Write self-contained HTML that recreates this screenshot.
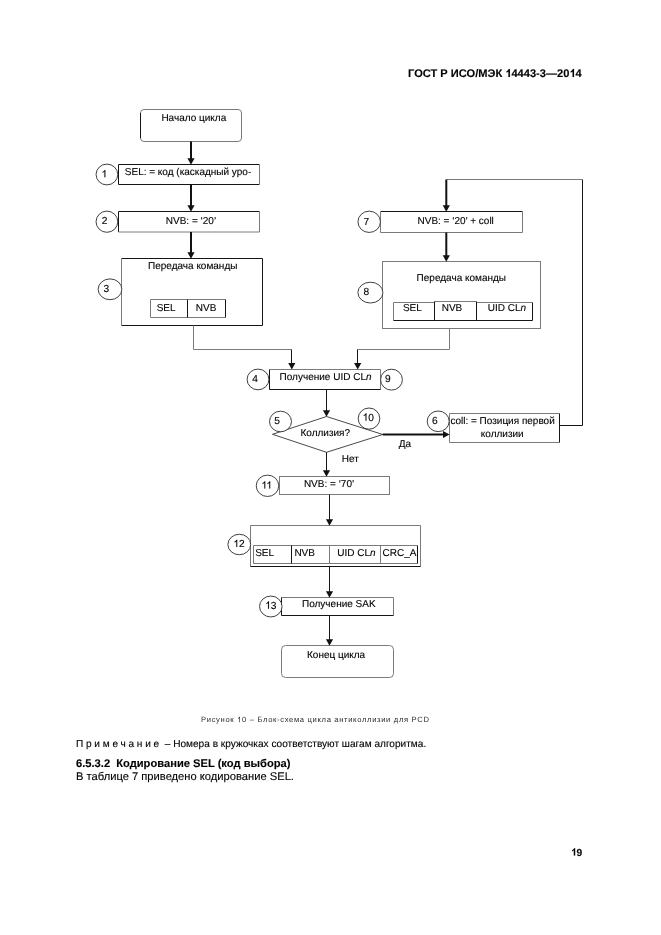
<!DOCTYPE html>
<html><head><meta charset="utf-8">
<style>
html,body{margin:0;padding:0;background:#fff;}
body{width:661px;height:935px;position:relative;overflow:hidden;font-family:"Liberation Sans",sans-serif;color:#111;}
svg{position:absolute;left:0;top:0;will-change:transform;text-rendering:geometricPrecision;}
svg text{font-family:"Liberation Sans",sans-serif;fill:#000;stroke:#000;stroke-width:0.12px;}
.t{font-size:10px;}
.n{font-size:10.2px;}
.d{stroke:#151515;}
.g{stroke:#7a7a7a;}
.one{fill-opacity:0;stroke-opacity:0;}
</style></head><body>
<svg width="661" height="935" viewBox="0 0 661 935">
<!-- header -->
<text x="408" y="77" font-size="11.1" font-weight="bold">ГОСТ Р ИСО/МЭК <tspan class="one">1</tspan>4443-3—20<tspan class="one">1</tspan>4</text>

<g fill="none" stroke-width="1">
 <!-- start -->
 <rect class="g" x="140.5" y="109.5" width="101" height="32" rx="3.5"/>
 <path class="d" d="M140.5,113 V138"/>
 <!-- box1 -->
 <path class="d" d="M118.5,184.5 V164.5 H259.5"/>
 <path class="d" d="M118.5,184.5 H259.5"/>
 <path class="g" d="M259.5,164.5 V184.5"/>
 <!-- box2 -->
 <path class="d" d="M118.5,232 V211.5 H259.5"/>
 <path class="g" d="M259.5,211.5 V232 H118.5"/>
 <!-- box3 -->
 <path class="d" d="M121.5,258.5 H262.5 V325.5 H121.5"/>
 <path class="g" d="M121.5,258.5 V325.5"/>
 <path class="g" d="M225.5,317.5 H150.5 V299.5 H225.5"/>
 <path class="d" d="M225.5,299.5 V317.5 M187.5,299.5 V317.5"/>
 <!-- connector 3->4 -->
 <path class="g" d="M193.5,325.5 V349.5 H291.5"/>
 <path class="d" d="M291.5,349.5 V364"/>
 <!-- box7 -->
 <path class="d" d="M380.5,211.5 H522.5"/>
 <path class="g" d="M380.5,211.5 V232.5 H522.5 V211.5"/>
 <!-- box8 -->
 <rect class="g" x="382.5" y="261.5" width="158" height="67"/>
 <path class="g" d="M393.5,320.5 V302.5 H434.5 M476.5,302.5 H532.5 M434.5,301.5 H476.5"/>
 <path class="d" d="M393.5,320.5 H532.5 V302.5 M434.5,301.5 V320.5 M476.5,301.5 V320.5"/>
 <!-- connector 8->4 -->
 <path class="g" d="M449.5,328.5 V349.5 H357.5"/>
 <path class="d" d="M357.5,349.5 V364"/>
 <!-- loop -->
 <path class="d" d="M559.5,425.5 H582.5 V179.5"/>
 <path class="g" d="M582.5,179.5 H446.5"/>
 <!-- box4 -->
 <path class="g" d="M269.5,369.5 H380.5 V389.5"/>
 <path class="d" d="M269.5,369.5 V389.5 H380.5"/>
 <path class="d" d="M326.5,389.5 V411"/>
 <!-- diamond -->
 <polygon points="326.5,416.5 382.8,434.5 326.5,452.3 272.5,434.3" stroke="#1a1a1a" stroke-width="0.8"/>
 <!-- box6 -->
 <path class="g" d="M559.5,442.5 H449.5 V413.5 H559.5"/>
 <path class="d" d="M559.5,413.5 V442.5"/>
 <path class="d" d="M326.5,452.3 V471"/>
 <!-- box11 -->
 <rect class="g" x="279.5" y="476.5" width="110" height="18"/>
 <path class="d" d="M329.5,494.5 V520"/>
 <!-- box12 -->
 <path class="g" d="M250.5,566.5 V525.5 H420.5 V566.5"/>
 <path class="d" d="M250.5,566.5 H420.5"/>
 <path class="g" d="M417.5,563.5 H253.5 V545.5 H417.5 M329.5,545.5 V563.5 M380.5,545.5 V563.5"/>
 <path class="d" d="M417.5,545.5 V563.5 M291.5,545.5 V563.5"/>
 <path class="d" d="M329.5,566.5 V592"/>
 <!-- box13 -->
 <path class="g" d="M281.5,597.5 H393.5 V615.5"/>
 <path class="d" d="M281.5,597.5 V615.5 H393.5"/>
 <path class="d" d="M329.5,615.5 V640"/>
 <!-- end -->
 <rect class="g" x="281.5" y="645.5" width="112" height="32" rx="4"/>
</g>
<!-- thick lines -->
<g fill="none" stroke="#111" stroke-width="2">
 <line x1="191" y1="141.5" x2="191" y2="159"/>
 <line x1="191" y1="184.5" x2="191" y2="206"/>
 <line x1="191" y1="232" x2="191" y2="253"/>
 <line x1="446.3" y1="179.5" x2="446.3" y2="206"/>
 <line x1="446.3" y1="232.5" x2="446.3" y2="256"/>
 <line x1="382.8" y1="434.5" x2="444" y2="434.5"/>
</g>
<!-- arrowheads -->
<g fill="#111" stroke="none">
 <polygon points="187.40,158.20 194.60,158.20 191.00,164.80"/>
 <polygon points="187.40,205.20 194.60,205.20 191.00,211.80"/>
 <polygon points="187.40,252.20 194.60,252.20 191.00,258.80"/>
 <polygon points="288.20,362.90 295.40,362.90 291.80,369.50"/>
 <polygon points="354.10,362.90 361.30,362.90 357.70,369.50"/>
 <polygon points="442.70,205.20 449.90,205.20 446.30,211.80"/>
 <polygon points="442.70,255.20 449.90,255.20 446.30,261.80"/>
 <polygon points="322.90,410.20 330.10,410.20 326.50,416.80"/>
 <polygon points="322.90,470.20 330.10,470.20 326.50,476.80"/>
 <polygon points="325.90,519.20 333.10,519.20 329.50,525.80"/>
 <polygon points="325.90,591.20 333.10,591.20 329.50,597.80"/>
 <polygon points="325.90,639.20 333.10,639.20 329.50,645.80"/>
 <polygon points="443,430.9 443,438.1 449.6,434.5"/>
</g>
<!-- circles -->
<g fill="#fff" stroke="#2a2a2a" stroke-width="0.9">
 <ellipse cx="106.9" cy="174.5" rx="10.85" ry="10.4"/>
 <ellipse cx="106.9" cy="221.7" rx="10.85" ry="10.6"/>
 <ellipse cx="110" cy="289.3" rx="11.85" ry="10.4"/>
 <ellipse cx="258" cy="379.45" rx="10.9" ry="10.35"/>
 <ellipse cx="280.5" cy="421.5" rx="11" ry="10.3"/>
 <ellipse cx="438.2" cy="421.3" rx="11" ry="10.3"/>
 <ellipse cx="369.2" cy="221.8" rx="11.25" ry="10.65"/>
 <ellipse cx="370.4" cy="292.6" rx="12.5" ry="10.4"/>
 <ellipse cx="391.5" cy="379.65" rx="10.9" ry="10.45"/>
 <ellipse cx="369" cy="418.6" rx="10.8" ry="10.6"/>
 <ellipse cx="267.5" cy="485.8" rx="11.25" ry="10.7"/>
 <ellipse cx="239.3" cy="544.5" rx="11.4" ry="10.25"/>
 <ellipse cx="270.8" cy="606.5" rx="11.25" ry="10.45"/>
</g>
<g class="n" text-anchor="middle">
 <text x="104.4" y="177.3"><tspan class="one">1</tspan></text>
 <text x="104.6" y="224.3">2</text>
 <text x="106.4" y="292.1">3</text>
 <text x="255" y="382.3">4</text>
 <text x="277.2" y="424">5</text>
 <text x="434.9" y="423.8">6</text>
 <text x="366.25" y="224.5">7</text>
 <text x="366.45" y="294.9">8</text>
 <text x="387.85" y="382.3">9</text>
 <text x="368.3" y="420.7"><tspan class="one">1</tspan>0</text>
 <text x="266.75" y="488.6"><tspan class="one">1</tspan><tspan class="one">1</tspan></text>
 <text x="239.1" y="547.1"><tspan class="one">1</tspan>2</text>
 <text x="270.85" y="608.7"><tspan class="one">1</tspan>3</text>
</g>
<g class="t">
 <text x="161.4" y="121">Начало цикла</text>
 <text x="124.8" y="175">SEL: = код (каскадный уро-</text>
 <text x="165.8" y="224">NVB: = ‘20’</text>
 <text x="148" y="269">Передача команды</text>
 <text x="156.7" y="311">SEL</text>
 <text x="195.8" y="311">NVB</text>
 <text x="417.5" y="224">NVB: = ‘20’ + coll</text>
 <text x="416.6" y="281">Передача команды</text>
 <text x="402.9" y="311">SEL</text>
 <text x="441.7" y="311">NVB</text>
 <text x="487.8" y="311">UID CL<tspan font-style="italic">n</tspan></text>
 <text x="279.6" y="380">Получение UID CL<tspan font-style="italic">n</tspan></text>
 <text x="300.5" y="436">Коллизия?</text>
 <text x="341.8" y="462">Нет</text>
 <text x="398.8" y="447">Да</text>
 <text x="450.4" y="424">coll: = Позиция первой</text>
 <text x="480.8" y="436.8">коллизии</text>
 <text x="303.9" y="486.6">NVB: = ‘70’</text>
 <text x="255.2" y="556">SEL</text>
 <text x="294.4" y="556">NVB</text>
 <text x="337.2" y="556">UID CL<tspan font-style="italic">n</tspan></text>
 <text x="382.6" y="556">CRC_A</text>
 <text x="302" y="606.8">Получение SAK</text>
 <text x="307" y="658.3">Конец цикла</text>
</g>
<text x="201" y="722.3" font-size="7.6" letter-spacing="0.67" style="stroke:none;fill:#2a2a2a">Рисунок <tspan class="one">1</tspan>0 – Блок-схема цикла антиколлизии для PCD</text>
<text x="76" y="747.4" font-size="10.1"><tspan letter-spacing="2.75">Примечание</tspan> – Номера в кружочках соответствуют шагам алгоритма.</text>
<text x="76" y="766.6" font-size="11.16" font-weight="bold">6.5.3.2 <tspan x="116.2">Кодирование SEL (код выбора)</tspan></text>
<text x="76" y="779.8" font-size="11.18">В таблице 7 приведено кодирование SEL.</text>
<text x="570.9" y="855.5" font-size="10.2" font-weight="bold"><tspan class="one">1</tspan>9</text>
<g class="ones">
<path transform="translate(505.27,77.00) scale(0.005420,-0.005420)" d="M856,0 L582,0 L582,1032 Q432,892 228,825 L228,1074 Q335,1109 461,1207 Q587,1305 634,1472 L856,1472 Z" fill="rgb(0, 0, 0)" stroke="rgb(0, 0, 0)" stroke-width="22.1"/>
<path transform="translate(569.42,77.00) scale(0.005420,-0.005420)" d="M856,0 L582,0 L582,1032 Q432,892 228,825 L228,1074 Q335,1109 461,1207 Q587,1305 634,1472 L856,1472 Z" fill="rgb(0, 0, 0)" stroke="rgb(0, 0, 0)" stroke-width="22.1"/>
<path transform="translate(101.56,177.30) scale(0.004980,-0.004980)" d="M763,0 L583,0 L583,1147 Q518,1085 412,1023 Q306,961 222,930 L222,1104 Q373,1175 486,1276 Q599,1377 646,1472 L763,1472 Z" fill="rgb(0, 0, 0)" stroke="rgb(0, 0, 0)" stroke-width="24.1"/>
<path transform="translate(362.63,420.70) scale(0.004980,-0.004980)" d="M763,0 L583,0 L583,1147 Q518,1085 412,1023 Q306,961 222,930 L222,1104 Q373,1175 486,1276 Q599,1377 646,1472 L763,1472 Z" fill="rgb(0, 0, 0)" stroke="rgb(0, 0, 0)" stroke-width="24.1"/>
<path transform="translate(261.45,488.60) scale(0.004980,-0.004980)" d="M763,0 L583,0 L583,1147 Q518,1085 412,1023 Q306,961 222,930 L222,1104 Q373,1175 486,1276 Q599,1377 646,1472 L763,1472 Z" fill="rgb(0, 0, 0)" stroke="rgb(0, 0, 0)" stroke-width="24.1"/>
<path transform="translate(266.38,488.60) scale(0.004980,-0.004980)" d="M763,0 L583,0 L583,1147 Q518,1085 412,1023 Q306,961 222,930 L222,1104 Q373,1175 486,1276 Q599,1377 646,1472 L763,1472 Z" fill="rgb(0, 0, 0)" stroke="rgb(0, 0, 0)" stroke-width="24.1"/>
<path transform="translate(233.43,547.10) scale(0.004980,-0.004980)" d="M763,0 L583,0 L583,1147 Q518,1085 412,1023 Q306,961 222,930 L222,1104 Q373,1175 486,1276 Q599,1377 646,1472 L763,1472 Z" fill="rgb(0, 0, 0)" stroke="rgb(0, 0, 0)" stroke-width="24.1"/>
<path transform="translate(265.18,608.70) scale(0.004980,-0.004980)" d="M763,0 L583,0 L583,1147 Q518,1085 412,1023 Q306,961 222,930 L222,1104 Q373,1175 486,1276 Q599,1377 646,1472 L763,1472 Z" fill="rgb(0, 0, 0)" stroke="rgb(0, 0, 0)" stroke-width="24.1"/>
<path transform="translate(237.12,722.30) scale(0.003711,-0.003711)" d="M763,0 L583,0 L583,1147 Q518,1085 412,1023 Q306,961 222,930 L222,1104 Q373,1175 486,1276 Q599,1377 646,1472 L763,1472 Z" fill="rgb(42, 42, 42)" stroke="none" stroke-width="32.3"/>
<path transform="translate(570.90,855.50) scale(0.004980,-0.004980)" d="M856,0 L582,0 L582,1032 Q432,892 228,825 L228,1074 Q335,1109 461,1207 Q587,1305 634,1472 L856,1472 Z" fill="rgb(0, 0, 0)" stroke="rgb(0, 0, 0)" stroke-width="24.1"/>
</g>
</svg>
</body></html>
